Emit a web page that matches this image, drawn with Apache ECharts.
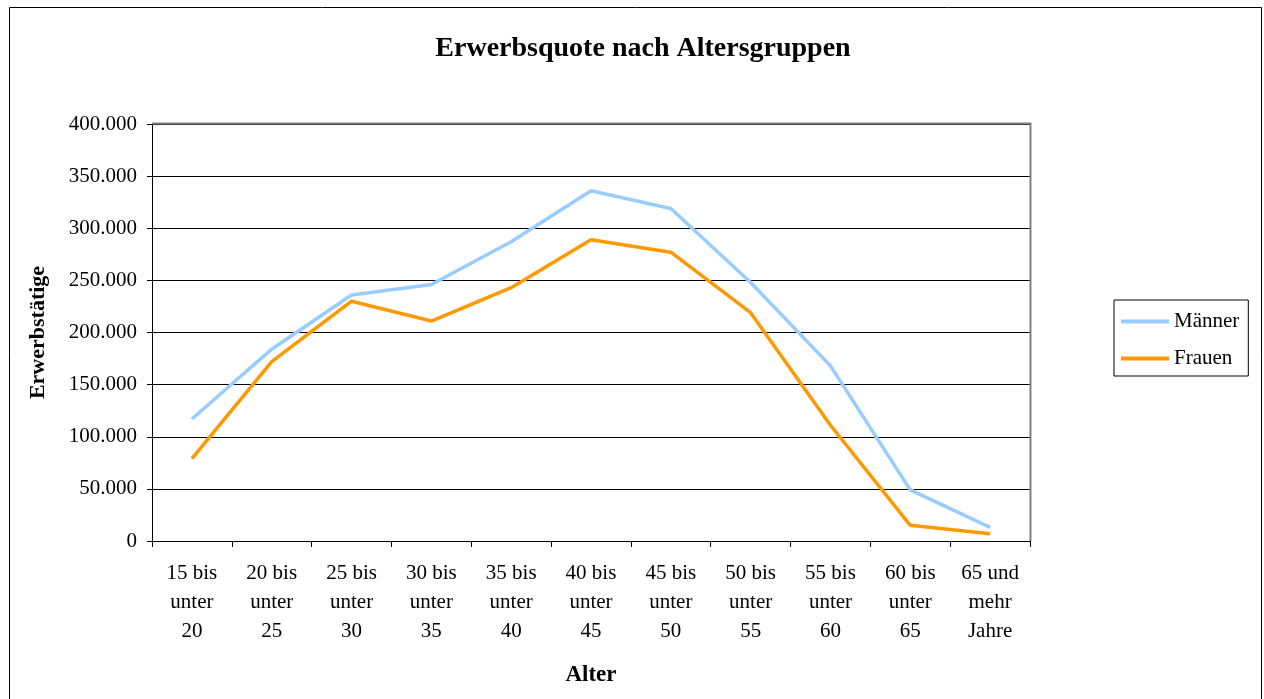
<!DOCTYPE html>
<html>
<head>
<meta charset="utf-8">
<script src="https://cdn.jsdelivr.net/npm/echarts@6/dist/echarts.min.js"></script>
<style>
  html, body { margin: 0; padding: 0; background: #fff; }
  #chart { width: 1264px; height: 699px; }
</style>
</head>
<body>
<div id="chart"></div>
<script>
const categories = [
  '15 bis\nunter\n20', '20 bis\nunter\n25', '25 bis\nunter\n30', '30 bis\nunter\n35',
  '35 bis\nunter\n40', '40 bis\nunter\n45', '45 bis\nunter\n50', '50 bis\nunter\n55',
  '55 bis\nunter\n60', '60 bis\nunter\n65', '65 und\nmehr\nJahre'
]
const maenner = [117000, 184000, 236000, 246000, 287000, 336000, 319000, 248000, 168000, 49000, 13000]
const frauen = [79000, 172000, 230000, 211000, 243000, 289000, 277000, 219000, 111000, 15000, 7000]

const font = '"Liberation Serif", "Times New Roman", serif'

// 400000 -> "400.000"
function fmt(v) {
  return String(v).replace(/\B(?=(\d{3})+(?!\d))/g, '.')
}

const chart = echarts.init(document.getElementById('chart'))

chart.setOption({
  animation: false,
  textStyle: { fontFamily: font, color: '#000' },
  title: {
    text: 'Erwerbsquote nach Altersgruppen',
    left: 638,
    textAlign: 'center',
    top: 30,
    textStyle: { fontFamily: font, fontSize: 28, fontWeight: 'bold', color: '#000' },
  },
  legend: {
    orient: 'vertical',
    left: 1114,
    top: 300,
    padding: [11, 9, 7, 7],
    icon: 'rect',
    itemWidth: 48,
    itemHeight: 4,
    itemGap: 16,
    borderColor: '#000',
    borderWidth: 1,
    textStyle: { fontFamily: font, fontSize: 21, color: '#000' },
    data: ['Männer', 'Frauen'],
  },
  grid: { left: 152, right: 234, top: 124, bottom: 158 },
  xAxis: {
    type: 'category',
    data: categories,
    name: 'Alter',
    nameLocation: 'middle',
    nameGap: 123,
    nameTextStyle: { fontFamily: font, fontSize: 23, fontWeight: 'bold', color: '#000' },
    axisLine: { lineStyle: { color: '#000', width: 1 } },
    axisTick: { show: true, length: 6, inside: false, lineStyle: { color: '#000' } },
    axisLabel: { fontFamily: font, fontSize: 21, color: '#000', lineHeight: 29, margin: 18 },
  },
  yAxis: {
    type: 'value',
    min: 0,
    max: 400000,
    interval: 50000,
    name: 'Erwerbstätige',
    nameLocation: 'middle',
    nameGap: 103,
    nameTextStyle: { fontFamily: font, fontSize: 22, fontWeight: 'bold', color: '#000' },
    axisLine: { show: true, lineStyle: { color: '#000', width: 1 } },
    axisTick: { show: true, length: 5, lineStyle: { color: '#000' } },
    axisLabel: { fontFamily: font, fontSize: 21, color: '#000', margin: 15, formatter: fmt },
    splitLine: { lineStyle: { color: '#000', width: 1 } },
  },
  graphic: [
    {
      type: 'rect',
      shape: { x: 9.5, y: 7.5, width: 1252, height: 720 },
      style: { fill: 'none', stroke: '#000', lineWidth: 1 },
      silent: true,
    },
    {
      type: 'polyline',
      shape: { points: [[152, 123.5], [1030.5, 123.5], [1030.5, 541]] },
      style: { fill: 'none', stroke: '#808080', lineWidth: 2 },
      silent: true,
      z: 1,
    },
  ],
  series: [
    {
      name: 'Männer',
      type: 'line',
      data: maenner,
      symbol: 'none',
      lineStyle: { width: 3.5, color: '#99CCFF' },
      itemStyle: { color: '#99CCFF' },
      z: 3,
    },
    {
      name: 'Frauen',
      type: 'line',
      data: frauen,
      symbol: 'none',
      lineStyle: { width: 3.5, color: '#FF9900' },
      itemStyle: { color: '#FF9900' },
      z: 3,
    },
  ],
})
</script>
</body>
</html>
